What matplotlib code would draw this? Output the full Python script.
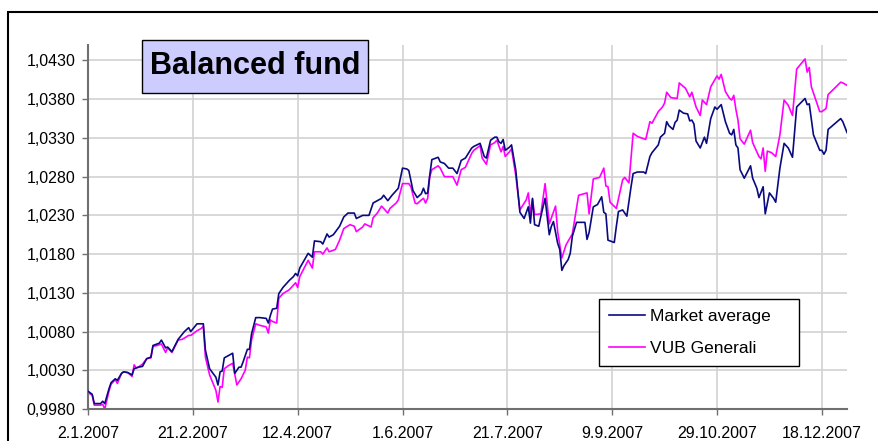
import matplotlib
matplotlib.use('Agg')
import matplotlib.pyplot as plt
from matplotlib.patches import Rectangle
from matplotlib.ticker import FuncFormatter
import pandas as pd

plt.rcParams['font.family'] = ['Liberation Sans', 'DejaVu Sans']

# days counted from 2.1.2007
start = pd.Timestamp('2007-01-02')

market_days = [0, 2, 3, 6, 7, 8, 10, 11, 13, 14, 16, 17, 19, 21, 22, 23, 24, 26, 28, 30,
               31, 33, 34, 35, 37, 38, 40, 43, 46, 48, 49, 52, 54, 55, 56, 58, 61, 62, 63, 64,
               65, 67, 69, 70, 72, 73, 74, 76, 77, 78, 80, 82, 85, 86, 87, 88, 90, 91, 93, 96,
               98, 99, 100, 101, 105, 107, 108, 111, 112, 114, 115, 117, 120, 122, 124, 127, 128, 131, 134, 136,
               138, 140, 141, 143, 145, 147, 148, 150, 152, 153, 155, 157, 159, 160, 161, 162, 163, 164, 167, 168,
               170, 172, 174, 176, 178, 180, 183, 184, 187, 189, 190, 192, 194, 195, 196, 197, 198, 199, 201, 202,
               204, 206, 208, 210, 211, 212, 213, 215, 216, 218, 220, 221, 222, 224, 225, 226, 227, 229, 230, 231,
               233, 237, 238, 239, 241, 243, 244, 245, 246, 247, 248, 251, 252, 253, 255, 257, 259, 260, 262, 265,
               266, 268, 269, 272, 273, 275, 276, 277, 279, 280, 281, 282, 284, 286, 287, 288, 289, 290, 292, 294,
               295, 297, 299, 300, 302, 304, 306, 307, 308, 309, 310, 311, 313, 316, 317, 319, 320, 322, 323, 325,
               327, 328, 330, 332, 334, 336, 338, 342, 343, 344, 346, 349, 350, 351, 352, 353, 359, 360, 362]
market_vals = [1.0003, 0.9999, 0.9987, 0.9987, 0.9990, 0.9987, 1.0006, 1.0014, 1.0019, 1.0017,
               1.0026, 1.0028, 1.0027, 1.0024, 1.0032, 1.0033, 1.0034, 1.0035, 1.0045, 1.0047,
               1.0062, 1.0064, 1.0065, 1.0069, 1.0059, 1.0060, 1.0054, 1.0070, 1.0080, 1.0085,
               1.0080, 1.0090, 1.0090, 1.0090, 1.0056, 1.0032, 1.0021, 1.0011, 1.0028, 1.0029,
               1.0046, 1.0049, 1.0052, 1.0026, 1.0034, 1.0034, 1.0041, 1.0057, 1.0057, 1.0077,
               1.0098, 1.0098, 1.0097, 1.0091, 1.0101, 1.0109, 1.0110, 1.0129, 1.0137, 1.0146,
               1.0151, 1.0155, 1.0152, 1.0162, 1.0181, 1.0176, 1.0197, 1.0196, 1.0193, 1.0206,
               1.0202, 1.0205, 1.0216, 1.0228, 1.0233, 1.0233, 1.0226, 1.0230, 1.0230, 1.0246,
               1.0249, 1.0252, 1.0256, 1.0249, 1.0256, 1.0262, 1.0265, 1.0291, 1.0290, 1.0288,
               1.0262, 1.0253, 1.0258, 1.0265, 1.0258, 1.0259, 1.0282, 1.0302, 1.0305, 1.0299,
               1.0297, 1.0291, 1.0291, 1.0284, 1.0301, 1.0304, 1.0317, 1.0319, 1.0323, 1.0306,
               1.0304, 1.0327, 1.0331, 1.0331, 1.0325, 1.0323, 1.0328, 1.0314, 1.0318, 1.0321,
               1.0289, 1.0234, 1.0226, 1.0241, 1.0220, 1.0252, 1.0218, 1.0216, 1.0229, 1.0252,
               1.0205, 1.0216, 1.0222, 1.0194, 1.0186, 1.0159, 1.0165, 1.0173, 1.0181, 1.0203,
               1.0221, 1.0221, 1.0199, 1.0208, 1.0241, 1.0244, 1.0249, 1.0254, 1.0234, 1.0232,
               1.0198, 1.0195, 1.0216, 1.0235, 1.0237, 1.0229, 1.0267, 1.0284, 1.0286, 1.0286,
               1.0284, 1.0306, 1.0311, 1.0321, 1.0331, 1.0336, 1.0351, 1.0346, 1.0341, 1.0350,
               1.0353, 1.0366, 1.0362, 1.0361, 1.0352, 1.0353, 1.0348, 1.0326, 1.0317, 1.0331,
               1.0323, 1.0355, 1.0370, 1.0367, 1.0373, 1.0351, 1.0336, 1.0334, 1.0341, 1.0321,
               1.0317, 1.0289, 1.0278, 1.0294, 1.0278, 1.0265, 1.0253, 1.0267, 1.0232, 1.0259,
               1.0252, 1.0247, 1.0291, 1.0323, 1.0317, 1.0305, 1.0370, 1.0381, 1.0373, 1.0374,
               1.0334, 1.0314, 1.0314, 1.0309, 1.0314, 1.0341, 1.0355, 1.0351, 1.0337]

vub_days = [0, 2, 3, 6, 7, 8, 10, 11, 13, 14, 16, 17, 19, 21, 22, 23, 24, 26, 28, 30,
            31, 33, 35, 37, 38, 40, 43, 45, 48, 49, 52, 54, 55, 56, 58, 61, 62, 63, 64, 65,
            67, 69, 71, 73, 75, 76, 77, 78, 80, 82, 85, 86, 87, 88, 90, 91, 93, 96, 99, 100,
            101, 105, 107, 108, 111, 112, 114, 115, 118, 120, 122, 125, 127, 128, 131, 132, 135, 136, 138, 140,
            143, 144, 147, 148, 150, 153, 154, 156, 157, 159, 160, 161, 162, 163, 164, 167, 168, 170, 174, 176,
            178, 180, 183, 184, 187, 188, 190, 192, 194, 195, 197, 198, 199, 201, 202, 204, 206, 209, 210, 211,
            212, 213, 216, 218, 220, 223, 224, 226, 228, 231, 234, 238, 239, 241, 244, 246, 247, 248, 249, 252,
            255, 256, 258, 260, 262, 266, 268, 269, 272, 274, 275, 276, 278, 281, 282, 285, 287, 288, 290, 292,
            293, 295, 297, 300, 301, 302, 304, 306, 307, 308, 309, 310, 311, 313, 316, 317, 320, 321, 322, 323,
            324, 326, 328, 330, 332, 334, 336, 338, 342, 343, 344, 345, 349, 350, 352, 353, 359, 360, 362]
vub_vals = [1.0001, 0.9998, 0.9985, 0.9985, 0.9986, 0.9980, 1.0003, 1.0012, 1.0018, 1.0013,
            1.0026, 1.0028, 1.0027, 1.0022, 1.0037, 1.0033, 1.0034, 1.0038, 1.0045, 1.0046,
            1.0061, 1.0062, 1.0064, 1.0053, 1.0059, 1.0053, 1.0069, 1.0070, 1.0075, 1.0075,
            1.0081, 1.0084, 1.0087, 1.0047, 1.0024, 1.0004, 0.9989, 1.0009, 1.0008, 1.0032,
            1.0036, 1.0039, 1.0011, 1.0019, 1.0030, 1.0047, 1.0046, 1.0069, 1.0090, 1.0088,
            1.0086, 1.0078, 1.0095, 1.0093, 1.0091, 1.0123, 1.0129, 1.0134, 1.0143, 1.0137,
            1.0151, 1.0172, 1.0162, 1.0183, 1.0183, 1.0180, 1.0188, 1.0183, 1.0186, 1.0198,
            1.0213, 1.0218, 1.0216, 1.0209, 1.0215, 1.0219, 1.0215, 1.0227, 1.0233, 1.0242,
            1.0233, 1.0239, 1.0246, 1.0250, 1.0271, 1.0271, 1.0267, 1.0246, 1.0245, 1.0250,
            1.0252, 1.0246, 1.0252, 1.0280, 1.0289, 1.0294, 1.0291, 1.0280, 1.0280, 1.0269,
            1.0289, 1.0292, 1.0310, 1.0314, 1.0320, 1.0304, 1.0296, 1.0321, 1.0324, 1.0327,
            1.0312, 1.0319, 1.0306, 1.0312, 1.0316, 1.0282, 1.0237, 1.0250, 1.0259, 1.0231,
            1.0251, 1.0231, 1.0232, 1.0271, 1.0219, 1.0242, 1.0209, 1.0175, 1.0192, 1.0206,
            1.0256, 1.0259, 1.0232, 1.0277, 1.0279, 1.0291, 1.0268, 1.0267, 1.0247, 1.0239,
            1.0276, 1.0279, 1.0272, 1.0336, 1.0332, 1.0328, 1.0351, 1.0349, 1.0364, 1.0370,
            1.0375, 1.0389, 1.0382, 1.0381, 1.0401, 1.0394, 1.0383, 1.0389, 1.0370, 1.0359,
            1.0379, 1.0373, 1.0396, 1.0410, 1.0406, 1.0412, 1.0390, 1.0381, 1.0379, 1.0385,
            1.0367, 1.0353, 1.0329, 1.0322, 1.0340, 1.0324, 1.0306, 1.0303, 1.0317, 1.0287,
            1.0313, 1.0311, 1.0306, 1.0334, 1.0379, 1.0372, 1.0359, 1.0419, 1.0432, 1.0415,
            1.0421, 1.0396, 1.0364, 1.0364, 1.0368, 1.0386, 1.0402, 1.0401, 1.0398]

x_tick_labels = ['2.1.2007', '21.2.2007', '12.4.2007', '1.6.2007',
                 '21.7.2007', '9.9.2007', '29.10.2007', '18.12.2007']
y_ticks = [0.998, 1.003, 1.008, 1.013, 1.018, 1.023, 1.028, 1.033, 1.038, 1.043]

market_dates = start + pd.to_timedelta(market_days, unit='D')
vub_dates = start + pd.to_timedelta(vub_days, unit='D')
tick_dates = pd.to_datetime(x_tick_labels, format='%d.%m.%Y')

W, H = 879, 441
fig = plt.figure(figsize=(W / 100, H / 100), dpi=100)
ax = fig.add_axes([88 / W, 32 / H, 759 / W, 364 / H])

ax.plot(market_dates, market_vals, color='#0a0a80', lw=1.2, label='Market average', zorder=3)
ax.plot(vub_dates, vub_vals, color='#ff00ff', lw=1.2, label='VUB Generali', zorder=2)

ax.set_xlim(start, market_dates[-1])
ax.set_ylim(0.998, 1.045)
ax.set_xticks(tick_dates)
ax.set_xticklabels(x_tick_labels)
ax.set_yticks(y_ticks)
ax.yaxis.set_major_formatter(FuncFormatter(lambda v, p: f'{v:.4f}'.replace('.', ',')))

ax.grid(True, color='#d2d2d2', lw=1.2)
ax.set_axisbelow(True)
for s in ['top', 'right']:
    ax.spines[s].set_visible(False)
for s in ['left', 'bottom']:
    ax.spines[s].set_color('#707070')
    ax.spines[s].set_linewidth(1.5)
ax.tick_params(axis='both', direction='out', length=4, width=1, color='#707070',
               labelsize=11.5, labelcolor='black')
ax.tick_params(axis='x', pad=8)
ax.tick_params(axis='y', pad=5)

# legend box spans x 599..799, y 299..366 px of the picture
leg = ax.legend(loc='upper left', bbox_to_anchor=(599 / W, (H - 366) / H, 200 / W, 67 / H),
                bbox_transform=fig.transFigure, mode='expand', fancybox=False,
                edgecolor='black', framealpha=1, borderaxespad=0, handlelength=2.1,
                handletextpad=0.3, borderpad=0.55, labelspacing=1.0, fontsize=12.5)
leg.get_frame().set_linewidth(1)
leg.set_zorder(10)

# title box
fig.patches.append(Rectangle((142 / W, 1 - 93 / H), 226 / W, 53 / H, transform=fig.transFigure,
                             facecolor='#ccccff', edgecolor='black', lw=1, zorder=5))
fig.text(255 / W, 1 - 66.5 / H, 'Balanced fund', ha='center', va='center',
         fontsize=22, fontweight='bold', zorder=6)

# outer chart border (cropped on the right and bottom)
fig.patches.append(Rectangle((8 / W, -0.1), 1.0, (H - 12) / H + 0.1, transform=fig.transFigure,
                             fill=False, edgecolor='black', lw=1.5, zorder=7))

fig.savefig('out.png', dpi=100)
